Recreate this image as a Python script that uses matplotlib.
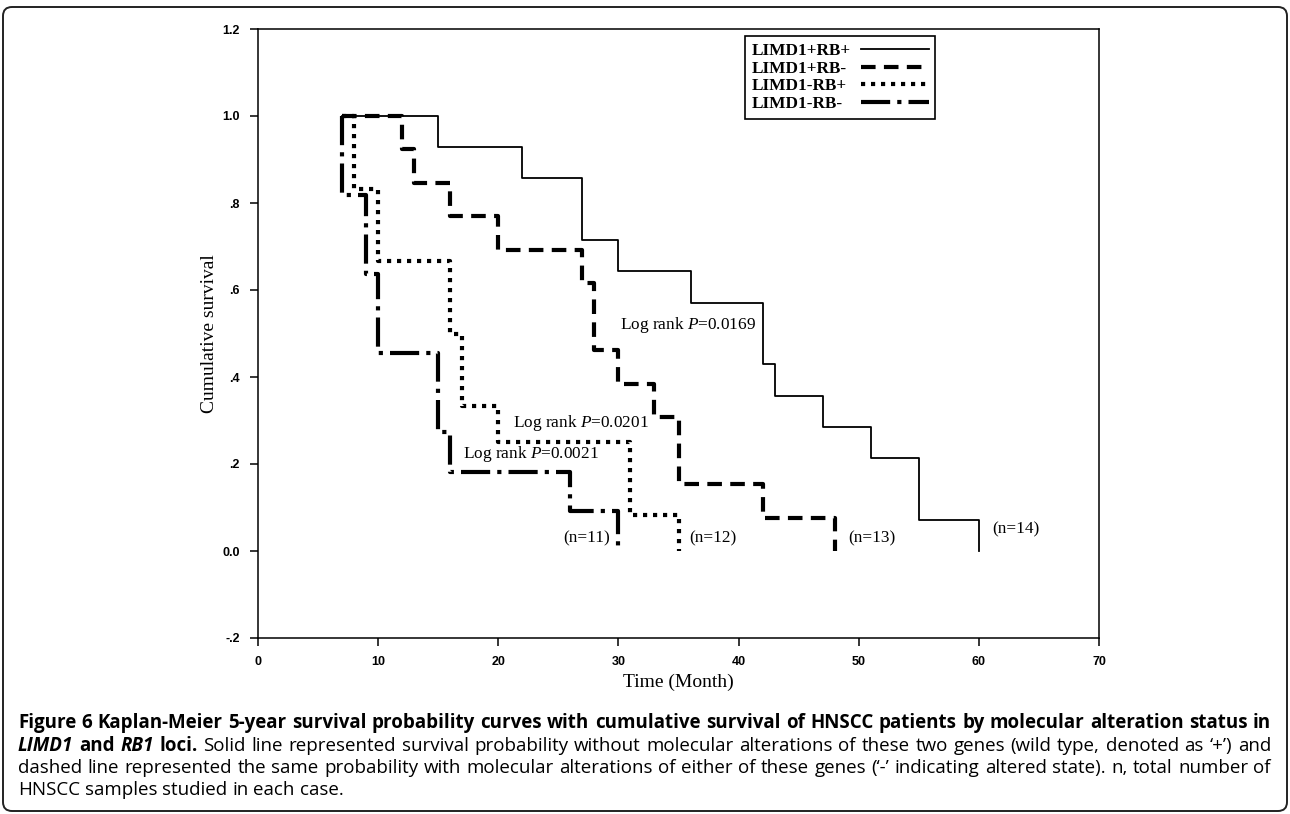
import matplotlib
matplotlib.use('Agg')
import matplotlib.pyplot as plt
from matplotlib.patches import FancyBboxPatch
from matplotlib.transforms import IdentityTransform, Bbox
from matplotlib.font_manager import FontProperties
from matplotlib.offsetbox import TextArea

plt.rcParams['mathtext.fontset'] = 'custom'
plt.rcParams['mathtext.rm'] = 'Liberation Serif'
plt.rcParams['mathtext.it'] = 'Liberation Serif:italic'

# Kaplan-Meier steps (month, survival)
pp_t = [7, 15, 22, 27, 30, 36, 42, 43, 47, 51, 55, 60]
pp_s = [1.0, 0.929, 0.857, 0.714, 0.643, 0.571, 0.429, 0.357, 0.286, 0.214, 0.071, 0.0]

pm_t = [7, 12, 13, 16, 20, 27, 28, 30, 33, 35, 42, 48]
pm_s = [1.0, 0.923, 0.846, 0.769, 0.692, 0.615, 0.462, 0.385, 0.308, 0.154, 0.077, 0.0]

mp_t = [7, 8, 10, 16, 17, 20, 31, 35]
mp_s = [1.0, 0.833, 0.667, 0.5, 0.333, 0.25, 0.083, 0.0]

mm_t = [7, 7, 9, 10, 15, 16, 26, 30]
mm_s = [1.0, 0.818, 0.636, 0.455, 0.273, 0.182, 0.091, 0.0]

labels = ['LIMD1+RB+', 'LIMD1+RB-', 'LIMD1-RB+', 'LIMD1-RB-']

logrank_txt = ['Log rank $\\mathit{P}$=0.0169', 'Log rank $\\mathit{P}$=0.0201',
               'Log rank $\\mathit{P}$=0.0021']
logrank_x = [30.1, 21.2, 17.05]
logrank_y = [0.52, 0.294, 0.223]

n_txt = ['(n=11)', '(n=12)', '(n=13)', '(n=14)']
n_x = [25.4, 35.9, 49.1, 61.1]
n_y = [0.028, 0.028, 0.028, 0.05]

y_ticks = [-0.2, 0.0, 0.2, 0.4, 0.6, 0.8, 1.0, 1.2]
y_ticklabels = ['-.2', '0.0', '.2', '.4', '.6', '.8', '1.0', '1.2']
x_ticks = [0, 10, 20, 30, 40, 50, 60, 70]

caption = [
    [('Figure 6 Kaplan-Meier 5-year survival probability curves with cumulative survival '
      'of HNSCC patients by molecular alteration status in', 'b')],
    [('LIMD1', 'bi'), ('and', 'b'), ('RB1', 'bi'), ('loci.', 'b'),
     ('Solid line represented survival probability without molecular alterations of these '
      'two genes (wild type, denoted as \u2018+\u2019) and', 'r')],
    [('dashed line represented the same probability with molecular alterations of either '
      'of these genes (\u2018-\u2019 indicating altered state). n, total number of', 'r')],
    [('HNSCC samples studied in each case.', 'r')],
]

SERIF = 'Liberation Serif'
W, H = 1290, 814

fig = plt.figure(figsize=(W / 100, H / 100), dpi=100)
ax = fig.add_axes([258 / W, 1 - 638 / H, (1099 - 258) / W, (638 - 29) / H])

ax.step(pp_t, pp_s, where='post', color='black', lw=1.3, label=labels[0])
ax.step(pm_t, pm_s, where='post', color='black', lw=3, linestyle=(0, (3.5, 2)),
        label=labels[1])
ax.step(mp_t, mp_s, where='post', color='black', lw=3, linestyle=(0, (1, 1.4)),
        label=labels[2])
ax.step(mm_t, mm_s, where='post', color='black', lw=3, linestyle=(0, (7, 1.7, 1, 1.7)),
        label=labels[3])

ax.set_xlim(0, 70)
ax.set_ylim(-0.2, 1.2)
ax.set_xticks(x_ticks)
ax.set_yticks(y_ticks)
ax.set_yticklabels(y_ticklabels)
ax.tick_params(direction='out', length=6, width=1.1, pad=7, labelsize=9)
for lbl in ax.get_xticklabels() + ax.get_yticklabels():
    lbl.set_fontfamily('Liberation Sans')
    lbl.set_fontweight('bold')
for sp in ax.spines.values():
    sp.set_linewidth(1.1)

ax.set_xlabel('Time (Month)', fontfamily=SERIF, fontsize=14)
ax.xaxis.set_label_coords(0.5, (638 - 682) / 609)
ax.xaxis.label.set_va('center')
ax.set_ylabel('Cumulative survival', fontfamily=SERIF, fontsize=14)
ax.yaxis.set_label_coords((210 - 258) / 841, 0.5)
ax.yaxis.label.set_va('center')

for s, x, y in zip(logrank_txt, logrank_x, logrank_y):
    ax.text(x, y, s, fontfamily=SERIF, fontsize=12.4, va='center', ha='left')
for s, x, y in zip(n_txt, n_x, n_y):
    ax.text(x, y, s, fontfamily=SERIF, fontsize=12.4, va='center', ha='left')

leg = ax.legend(loc='upper left', bbox_to_anchor=(745 / W, 1 - 36 / H),
                bbox_transform=fig.transFigure, markerfirst=False, fancybox=False,
                edgecolor='black', framealpha=1,
                prop=dict(family=SERIF, weight='bold', size=12.4),
                handlelength=3.9, handletextpad=0.6, labelspacing=0.1,
                borderpad=0.4, borderaxespad=0)
leg.get_frame().set_linewidth(1.2)

renderer = fig.canvas.get_renderer()

# give all legend labels the same width so they line up on the left
areas = [a for a in leg.findobj(match=TextArea) if a.get_text() in labels]
maxw = max(a._text.get_window_extent(renderer).width for a in areas)
for a in areas:
    def fixed_bbox(r, orig=a.get_bbox):
        b = orig(r)
        return Bbox.from_bounds(b.x0, b.y0, maxw, b.height)
    a.get_bbox = fixed_bbox

# outer rounded frame
fig.add_artist(FancyBboxPatch((3, 3), W - 6, H - 10,
                              boxstyle='round,pad=0,rounding_size=9',
                              transform=IdentityTransform(), fill=False,
                              edgecolor='#222222', lw=1.4))

# caption, justified word by word
cap_family = 'Open Sans'


def props(style, size):
    if style == 'b':
        return FontProperties(family=cap_family, weight='bold', size=size)
    if style == 'bi':
        return FontProperties(family=cap_family, weight='bold', style='italic', size=size)
    return FontProperties(family=cap_family, size=size)


def width(s, fp):
    t = fig.text(0, 0, s, fontproperties=fp)
    w = t.get_window_extent(renderer).width
    t.remove()
    return w


def words_of(line, size):
    out = []
    for chunk, style in line:
        fp = props(style, size)
        for w in chunk.split(' '):
            out.append((w, fp))
    return out


x0, x1 = 18, 1271
base = 10.0
fits = []
for line in caption[:3]:
    ws = words_of(line, base)
    sp = width('a a', props('r', base)) - width('aa', props('r', base))
    natural = sum(width(w, fp) for w, fp in ws) + sp * (len(ws) - 1)
    fits.append(base * (x1 - x0) / natural)
cap_size = min(fits) * 0.995

baselines = [728, 751, 773, 795]
for i, line in enumerate(caption):
    ws = words_of(line, cap_size)
    wd = [width(w, fp) for w, fp in ws]
    if i < 3:
        gap = (x1 - x0 - sum(wd)) / (len(ws) - 1)
    else:
        gap = width('a a', props('r', cap_size)) - width('aa', props('r', cap_size))
    x = x0
    for (w, fp), d in zip(ws, wd):
        fig.text(x / W, 1 - baselines[i] / H, w, fontproperties=fp, va='baseline', ha='left')
        x += d + gap

fig.savefig('out.png', dpi=100)
